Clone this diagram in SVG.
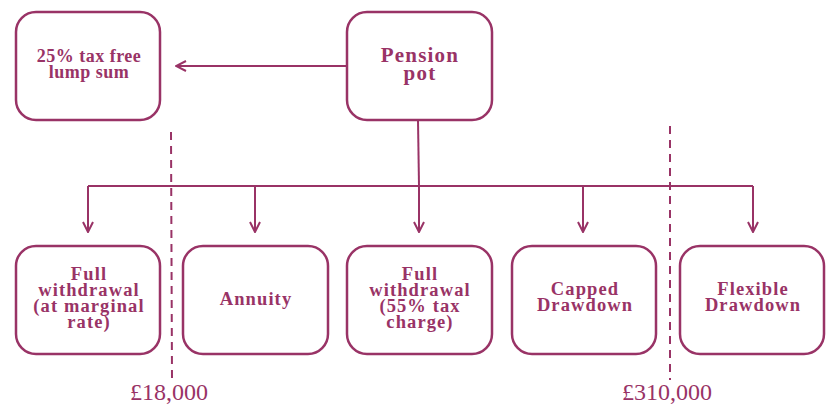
<svg xmlns="http://www.w3.org/2000/svg" width="826" height="408" viewBox="0 0 826 408">
<defs>
<style>
.box{fill:#fff;stroke:#993366;stroke-width:2.5}
.t{font-family:"Liberation Serif","DejaVu Serif",serif;font-weight:bold;fill:#993366;text-anchor:middle;font-size:18.5px;letter-spacing:1.1px}
.sm{font-size:18px;letter-spacing:0.5px}
.big{font-size:21px;letter-spacing:1.2px}
.lbl{font-family:"Liberation Serif","DejaVu Serif",serif;fill:#993366;text-anchor:middle;font-size:24px}
.ln{fill:none;stroke:#993366;stroke-width:2}
.dash{fill:none;stroke:#993366;stroke-width:2;stroke-dasharray:8,6}
</style>
<marker id="arr" viewBox="0 0 12 12" refX="11" refY="6" markerWidth="12" markerHeight="12" markerUnits="userSpaceOnUse" orient="auto">
<path d="M1,1 L11,6 L1,11" fill="none" stroke="#993366" stroke-width="2"/>
</marker>
</defs>
<rect width="826" height="408" fill="#fff"/>
<g id="connectors">
<line class="ln" x1="347" y1="66" x2="176" y2="66" marker-end="url(#arr)"/>
<line class="ln" x1="418" y1="120" x2="419" y2="186"/>
<line class="ln" x1="88" y1="186" x2="753" y2="186"/>
<line class="ln" x1="88" y1="186" x2="88" y2="232" marker-end="url(#arr)"/>
<line class="ln" x1="255" y1="186" x2="255" y2="232" marker-end="url(#arr)"/>
<line class="ln" x1="419" y1="186" x2="419" y2="232" marker-end="url(#arr)"/>
<line class="ln" x1="583" y1="186" x2="583" y2="232" marker-end="url(#arr)"/>
<line class="ln" x1="753" y1="186" x2="753" y2="232" marker-end="url(#arr)"/>
<line class="dash" x1="171" y1="132" x2="172" y2="380"/>
<line class="dash" x1="670" y1="126" x2="670" y2="380"/>
</g>
<g id="lump">
<rect class="box" x="16" y="12" width="144" height="108" rx="20"/>
<text class="t sm" x="89" y="62">25% tax free</text>
<text class="t sm" x="89" y="78">lump sum</text>
</g>
<g id="pot">
<rect class="box" x="347" y="12" width="145" height="108" rx="20"/>
<text class="t big" x="420" y="62">Pension</text>
<text class="t big" x="420" y="80">pot</text>
</g>
<g id="full1">
<rect class="box" x="16" y="246" width="144" height="108" rx="20"/>
<text class="t" x="89" y="280">Full</text>
<text class="t" x="89" y="296">withdrawal</text>
<text class="t" x="89" y="312">(at marginal</text>
<text class="t" x="89" y="328">rate)</text>
</g>
<g id="annuity">
<rect class="box" x="183" y="246" width="145" height="108" rx="20"/>
<text class="t" x="256" y="305">Annuity</text>
</g>
<g id="full2">
<rect class="box" x="347" y="246" width="145" height="108" rx="20"/>
<text class="t" x="420" y="280">Full</text>
<text class="t" x="420" y="296">withdrawal</text>
<text class="t" x="420" y="312">(55% tax</text>
<text class="t" x="420" y="328">charge)</text>
</g>
<g id="capped">
<rect class="box" x="512" y="246" width="144" height="108" rx="20"/>
<text class="t" x="585" y="295">Capped</text>
<text class="t" x="585" y="311">Drawdown</text>
</g>
<g id="flexible">
<rect class="box" x="680" y="246" width="144" height="108" rx="20"/>
<text class="t" x="753" y="295">Flexible</text>
<text class="t" x="753" y="311">Drawdown</text>
</g>
<g id="labels">
<text class="lbl" x="169" y="400">£18,000</text>
<text class="lbl" x="667" y="400">£310,000</text>
</g>
</svg>
